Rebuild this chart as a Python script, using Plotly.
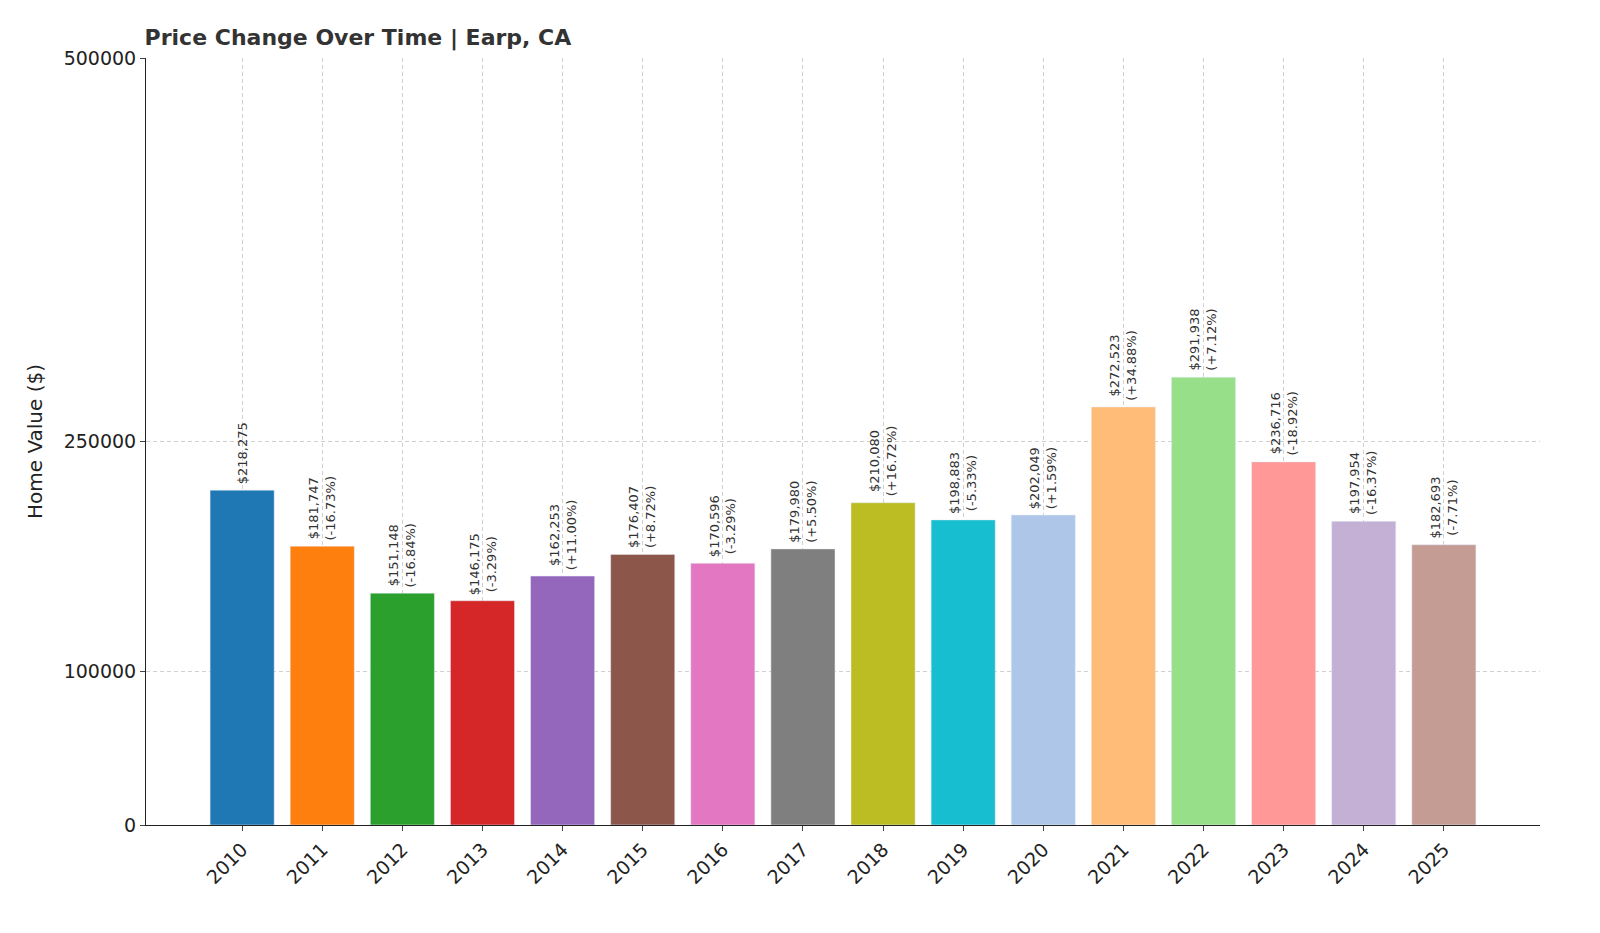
import plotly.graph_objects as go

years = [str(y) for y in range(2010, 2026)]
values = [218275, 181747, 151148, 146175, 162253, 176407, 170596, 179980,
          210080, 198883, 202049, 272523, 291938, 236716, 197954, 182693]
changes = [None, "-16.73%", "-16.84%", "-3.29%", "+11.00%", "+8.72%", "-3.29%", "+5.50%",
           "+16.72%", "-5.33%", "+1.59%", "+34.88%", "+7.12%", "-18.92%", "-16.37%", "-7.71%"]
colors = ["#1f77b4", "#ff7f0e", "#2ca02c", "#d62728", "#9467bd", "#8c564b", "#e377c2", "#7f7f7f",
          "#bcbd22", "#17becf", "#aec7e8", "#ffbb78", "#98df8a", "#ff9896", "#c5b0d5", "#c49c94"]

xs = list(range(len(years)))
fig = go.Figure(go.Bar(x=xs, y=values, marker_color=colors, width=0.8))

for i, (v, c) in enumerate(zip(values, changes)):
    txt = f"${v:,}" if c is None else f"${v:,}<br>({c})"
    fig.add_annotation(x=i, y=v, text=txt, textangle=-90, showarrow=False,
                       xanchor="center", yanchor="bottom", yshift=4,
                       font=dict(size=13, color="#333333"))

grid = dict(showgrid=True, gridcolor="#d0d0d0", griddash="4px,3px", gridwidth=1)
fig.update_layout(
    plot_bgcolor="white", paper_bgcolor="white",
    font=dict(family="DejaVu Sans", color="#222222"),
    margin=dict(l=138, r=52, t=50, b=100),
    title=dict(text="<b>Price Change Over Time | Earp, CA</b>", x=138/1600, xanchor="left",
               y=0.968, yanchor="middle", font=dict(size=22, color="#333333")),
    showlegend=False,
    xaxis=dict(tickmode="array", tickvals=xs, ticktext=years, tickangle=-45,
               range=[-1.2, 16.2], tickfont=dict(size=19), ticks="outside",
               showline=True, linecolor="#222222", **grid),
    yaxis=dict(range=[0, 500000], tickmode="array", tickvals=[0, 100000, 250000, 500000],
               ticktext=["0", "100000", "250000", "500000"], tickfont=dict(size=19),
               ticks="outside", showline=True, linecolor="#222222",
               title=dict(text="Home Value ($)", font=dict(size=20)), **grid),
)
fig.write_html("out.html")
